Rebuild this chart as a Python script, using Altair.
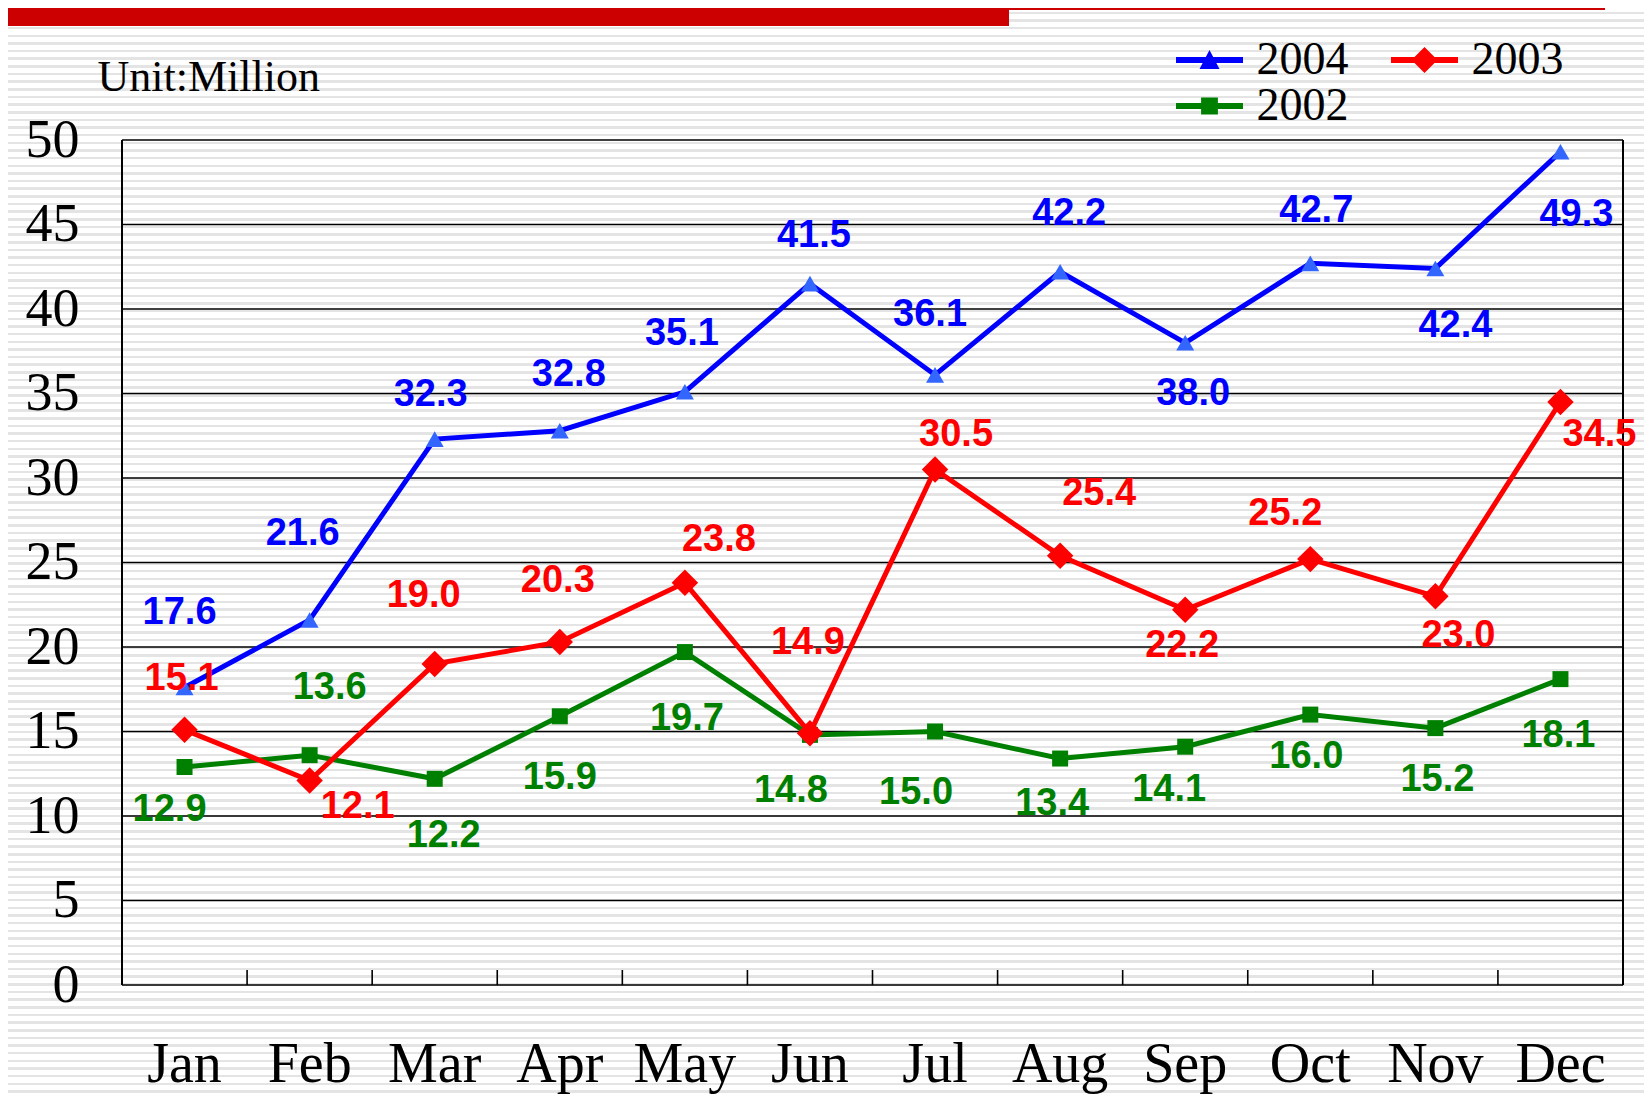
import altair as alt
import pandas as pd

# ---------------- data ----------------
months = ["Jan", "Feb", "Mar", "Apr", "May", "Jun", "Jul", "Aug", "Sep", "Oct", "Nov", "Dec"]
series_names = ["2004", "2003", "2002"]
v2004 = [17.6, 21.6, 32.3, 32.8, 35.1, 41.5, 36.1, 42.2, 38.0, 42.7, 42.4, 49.3]
v2003 = [15.1, 12.1, 19.0, 20.3, 23.8, 14.9, 30.5, 25.4, 22.2, 25.2, 23.0, 34.5]
v2002 = [12.9, 13.6, 12.2, 15.9, 19.7, 14.8, 15.0, 13.4, 14.1, 16.0, 15.2, 18.1]
y_ticks = [0, 5, 10, 15, 20, 25, 30, 35, 40, 45, 50]

# ---------------- styles ----------------
line_colors = ["#0000ff", "#ff0000", "#008000"]
marker_colors = ["#3366ff", "#ff0000", "#008000"]
label_colors = ["#0000ff", "#ff0000", "#008000"]
marker_shapes = ["triangle-up", "diamond", "square"]
marker_sizes = [324, 700, 256]

# label offsets (pixels) relative to each point
dx2004 = [-5, -7, -4, 9, -3, 4, -5, 9, 8, 6, 20, 16]
dy2004 = [-75, -86, -44, -56, -58, -48, -60, -58, 51, -52, 58, 63]
dx2003 = [-3, 48, -11, -2, 34, -2, 21, 39, -3, -25, 23, 39]
dy2003 = [-51, 26, -68, -61, -43, -90, -35, -62, 36, -45, 40, 33]
dx2002 = [-15, 20, 9, 0, 2, -19, -19, -8, -16, -4, 2, -2]
dy2002 = [43, -67, 57, 62, 67, 56, 61, 45, 43, 42, 52, 57]

W, H = 1501, 845
PAD = {"left": 114, "top": 132, "right": 21, "bottom": 111}
FULL_H = PAD["top"] + H + PAD["bottom"]

rows = []
for name, vals, dxs, dys in [("2002", v2002, dx2002, dy2002),
                             ("2003", v2003, dx2003, dy2003),
                             ("2004", v2004, dx2004, dy2004)]:
    for i, m in enumerate(months):
        rows.append({"month": m, "idx": i, "series": name, "value": vals[i],
                     "ldx": dxs[i], "ldy": dys[i]})
df = pd.DataFrame(rows)

# ---------------- scales / axes ----------------
x_scale = alt.Scale(type="band", domain=months, paddingInner=0, paddingOuter=0)
y_scale = alt.Scale(domain=[0, 50], nice=False, zero=True)

x_axis = alt.Axis(title=None, domain=False, ticks=False, tickSize=0, grid=False,
                  labelFont="Liberation Serif", labelFontSize=56, labelColor="black",
                  labelBaseline="alphabetic", labelPadding=96, labelAngle=0, zindex=1)
y_axis = alt.Axis(title="Unit:Million", values=y_ticks, domain=False, ticks=False, tickSize=0,
                  grid=False, labelFont="Liberation Serif", labelFontSize=54,
                  labelColor="black", labelPadding=43, labelBaseline="middle",
                  titleAngle=0, titleX=-25, titleY=-50, titleAlign="left",
                  titleBaseline="alphabetic", titleFont="Liberation Serif",
                  titleFontSize=44, titleFontWeight="normal", titleColor="black", zindex=1)


def X(bp):
    return alt.X("month:N", scale=x_scale, axis=x_axis, bandPosition=bp)


Y = alt.Y("value:Q", scale=y_scale, axis=y_axis)

# ---------------- background decorations ----------------
stops = [{"offset": 0, "color": "#ffffff"}]
p = 3.9
while p < 8 + FULL_H:
    a = (p - 8) / FULL_H
    b = (p + 2.5 - 8) / FULL_H
    if b > 0 and a < 1:
        a = round(max(a, 0), 5)
        b = round(min(b, 1), 5)
        stops += [{"offset": a, "color": "#ffffff"}, {"offset": a, "color": "#e4e4e4"},
                  {"offset": b, "color": "#e4e4e4"}, {"offset": b, "color": "#ffffff"}]
    p += 7.65
stops.append({"offset": 1, "color": "#ffffff"})
grad = {"gradient": "linear", "stops": stops, "x1": 0, "x2": 0, "y1": 0, "y2": 1}

bg_df = pd.DataFrame({"k": [0]})
stripes = alt.Chart(bg_df).mark_rect(color=grad, strokeWidth=0).encode(
    x=alt.value(-PAD["left"]), x2=alt.value(W + PAD["right"]),
    y=alt.value(-PAD["top"]), y2=alt.value(H + PAD["bottom"]))
red_thick = alt.Chart(bg_df).mark_rect(color="#cc0000", strokeWidth=0).encode(
    x=alt.value(-PAD["left"]), x2=alt.value(887),
    y=alt.value(-PAD["top"]), y2=alt.value(-114))
red_thin = alt.Chart(bg_df).mark_rect(color="#cc0000", strokeWidth=0).encode(
    x=alt.value(887), x2=alt.value(1483),
    y=alt.value(-PAD["top"]), y2=alt.value(-PAD["top"] + 2))

# ---------------- frame, grid, ticks ----------------
grid = alt.Chart(pd.DataFrame({"value": y_ticks})).mark_rule(color="black", strokeWidth=1.6).encode(y=Y)
left_border = alt.Chart(pd.DataFrame({"month": [months[0]]})).mark_rule(
    color="black", strokeWidth=2).encode(x=X(0))
right_border = alt.Chart(pd.DataFrame({"month": [months[-1]]})).mark_rule(
    color="black", strokeWidth=2).encode(x=X(1))
xticks = alt.Chart(pd.DataFrame({"month": months[1:]})).mark_rule(
    color="black", strokeWidth=1.6).encode(x=X(0), y=alt.value(H - 15), y2=alt.value(H))

# ---------------- data layers ----------------
lines = alt.Chart(df).mark_line(strokeWidth=5).encode(
    x=X(0.5), y=Y,
    color=alt.Color("series:N", scale=alt.Scale(domain=series_names, range=line_colors), legend=None),
    order=alt.Order("idx:Q"))

markers = alt.Chart(df).mark_point(filled=True, opacity=1, strokeWidth=0).encode(
    x=X(0.5), y=Y,
    color=alt.Color("series:N", scale=alt.Scale(domain=series_names, range=marker_colors), legend=None),
    shape=alt.Shape("series:N", scale=alt.Scale(domain=series_names, range=marker_shapes), legend=None),
    size=alt.Size("series:N", scale=alt.Scale(type="ordinal", domain=series_names, range=marker_sizes),
                  legend=None))

labels = alt.Chart(df).mark_text(
    font="Liberation Sans", fontWeight="bold", fontSize=38, align="center", baseline="middle",
    dx=alt.ExprRef(expr="datum.ldx"), dy=alt.ExprRef(expr="datum.ldy")).encode(
    x=X(0.5), y=Y,
    text=alt.Text("value:Q", format=".1f"),
    color=alt.Color("series:N", scale=alt.Scale(domain=series_names, range=label_colors), legend=None))

# ---------------- legend (line + marker symbols) ----------------
# legend lists entries column-wise: 2004, 2002 in the first column, 2003 in the second
legend_order = ["2004", "2002", "2003"]
legend_colors = ["#0000ff", "#008000", "#ff0000"]
seg = "M-1.675,-0.15L1.675,-0.15L1.675,0.15L-1.675,0.15Z"
legend_paths = [
    seg + "M0,-0.5L0.5,0.45L-0.5,0.45Z",
    seg + "M-0.42,-0.42L0.42,-0.42L0.42,0.42L-0.42,0.42Z",
    seg + "M0,-0.65L0.65,0L0,0.65L-0.65,0Z",
]
leg = alt.Legend(title=None, orient="none", legendX=1051, legendY=-103, columns=2,
                 columnPadding=39, rowPadding=-7, symbolSize=1600, symbolOffset=13.5,
                 labelOffset=24, labelFont="Liberation Serif", labelFontSize=46,
                 labelColor="black", symbolStrokeWidth=0, symbolOpacity=1, padding=0, zindex=1)
legend_layer = alt.Chart(df).transform_filter("datum.value < 0").mark_point(
    filled=True, opacity=1, size=1600, strokeWidth=0).encode(
    x=X(0.5), y=Y,
    color=alt.Color("series:N", scale=alt.Scale(domain=legend_order, range=legend_colors), legend=leg),
    shape=alt.Shape("series:N", scale=alt.Scale(domain=legend_order, range=legend_paths), legend=leg))

chart = alt.layer(
    stripes, red_thick, red_thin, grid, left_border, right_border, xticks,
    lines, markers, labels, legend_layer
).resolve_scale(
    color="independent", shape="independent", size="independent"
).properties(
    width=W, height=H, autosize=alt.AutoSizeParams(type="none"), padding=PAD
).configure_view(strokeWidth=0)

chart.save("out.html", embed_options={"renderer": "svg", "actions": False})
